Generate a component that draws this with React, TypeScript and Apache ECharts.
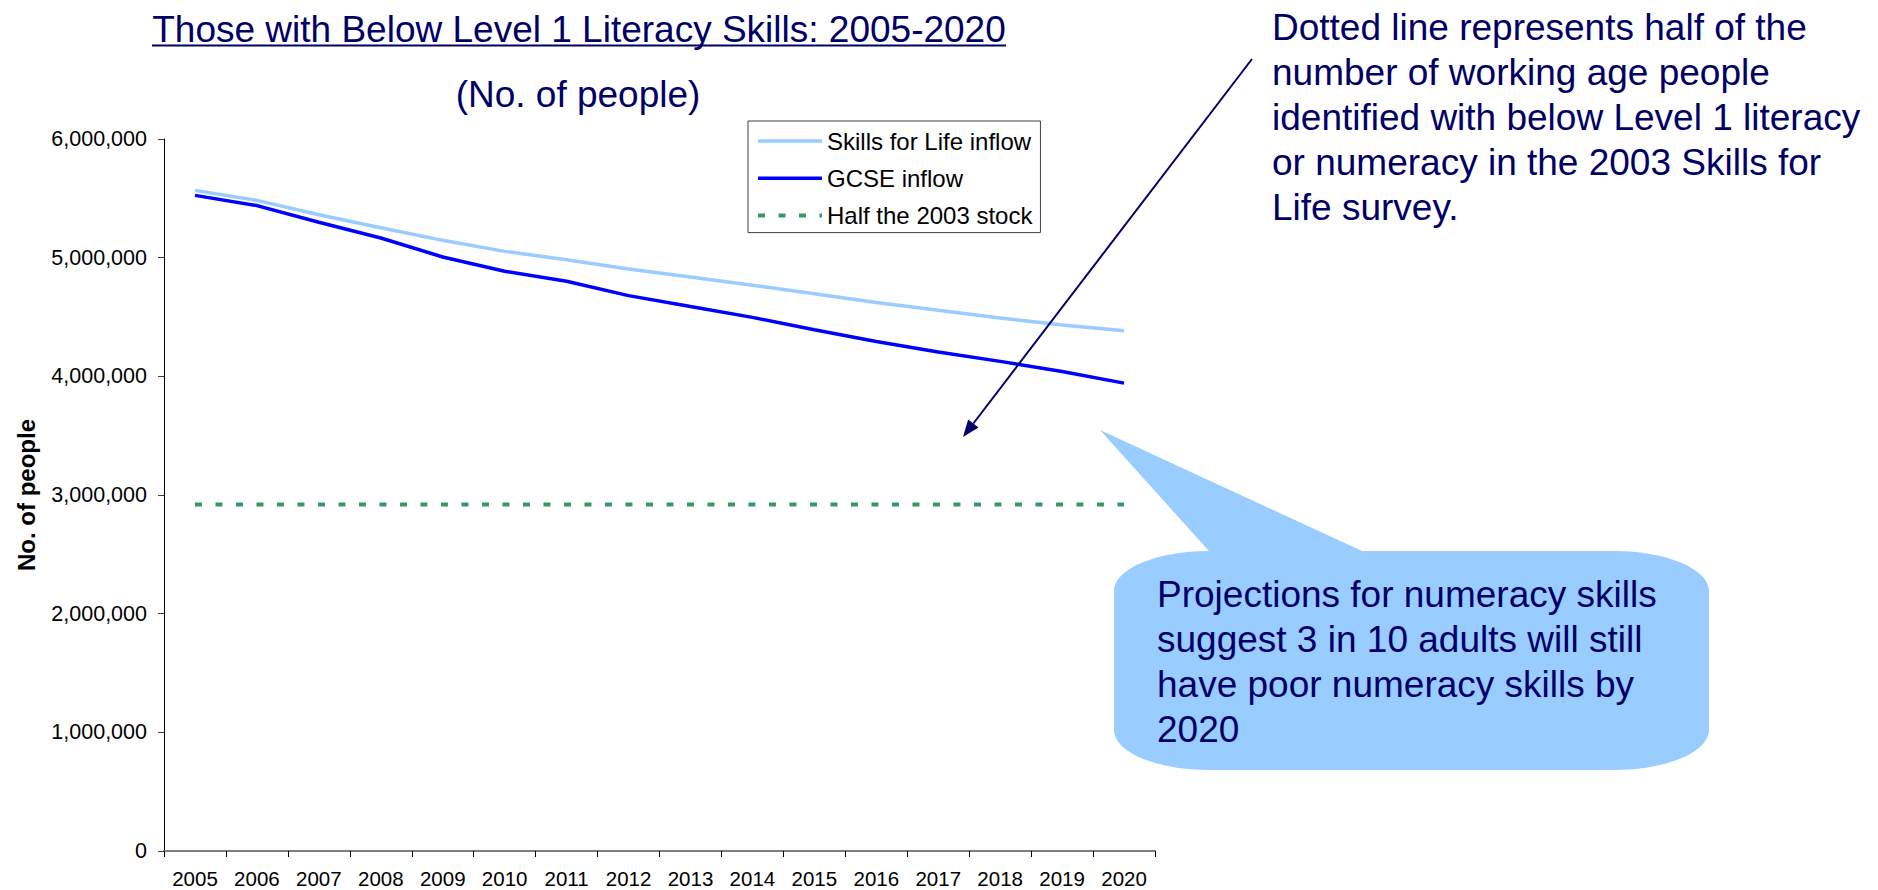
import React, { useEffect, useRef } from "react";
import * as echarts from "echarts";

const years = ["2005", "2006", "2007", "2008", "2009", "2010", "2011", "2012", "2013", "2014", "2015", "2016", "2017", "2018", "2019", "2020"];
const skillsForLifeInflow = [5567000, 5483000, 5362000, 5252000, 5146000, 5053000, 4983000, 4905000, 4838000, 4768000, 4696000, 4623000, 4556000, 4491000, 4432000, 4385000];
const gcseInflow = [5525000, 5439000, 5298000, 5166000, 5006000, 4885000, 4801000, 4680000, 4588000, 4497000, 4393000, 4294000, 4205000, 4126000, 4041000, 3943000];
const halfThe2003Stock = [2920000, 2920000, 2920000, 2920000, 2920000, 2920000, 2920000, 2920000, 2920000, 2920000, 2920000, 2920000, 2920000, 2920000, 2920000, 2920000];

const seriesNames = ["Skills for Life inflow", "GCSE inflow", "Half the 2003 stock"];
const seriesColors = ["#99CCFF", "#0000FF", "#339966"];
const yAxisMin = 0;
const yAxisMax = 6000000;
const yAxisInterval = 1000000;

const titleText = "Those with Below Level 1 Literacy Skills: 2005-2020";
const subtitleText = "(No. of people)";
const yAxisTitle = "No. of people";
const noteLines = [
  "Dotted line represents half of the",
  "number of working age people",
  "identified with below Level 1 literacy",
  "or numeracy in the 2003 Skills for",
  "Life survey.",
];
const calloutLines = [
  "Projections for numeracy skills",
  "suggest 3 in 10 adults will still",
  "have poor numeracy skills by",
  "2020",
];

const FONT = "'Liberation Sans', Arial, Helvetica, sans-serif";
const NAVY = "#000066";

// callout bubble outline (pointer + rounded body)
const K = 0.5523;
const bx0 = 1114, bx1 = 1709, by0 = 551, by1 = 770, rx = 95, ry = 40;
const calloutPath =
  `M ${bx0 + rx} ${by0} L 1100 430 L 1362 ${by0} L ${bx1 - rx} ${by0} ` +
  `C ${bx1 - rx + rx * K} ${by0} ${bx1} ${by0 + ry - ry * K} ${bx1} ${by0 + ry} ` +
  `L ${bx1} ${by1 - ry} ` +
  `C ${bx1} ${by1 - ry + ry * K} ${bx1 - rx + rx * K} ${by1} ${bx1 - rx} ${by1} ` +
  `L ${bx0 + rx} ${by1} ` +
  `C ${bx0 + rx - rx * K} ${by1} ${bx0} ${by1 - ry + ry * K} ${bx0} ${by1 - ry} ` +
  `L ${bx0} ${by0 + ry} ` +
  `C ${bx0} ${by0 + ry - ry * K} ${bx0 + rx - rx * K} ${by0} ${bx0 + rx} ${by0} Z`;

let registered = false;
function ensureShapes() {
  if (registered) return;
  echarts.graphic.registerShape("calloutBubble", echarts.graphic.extendPath(calloutPath, {}) as any);
  registered = true;
}

export default function App() {
  const ref = useRef<HTMLDivElement>(null);

  useEffect(() => {
    if (!ref.current) return;
    ensureShapes();
    const chart = echarts.init(ref.current, undefined, { renderer: "svg" });

    // arrow geometry
    const ax0 = 1252, ay0 = 59, ax1 = 963, ay1 = 437;
    const dx = ax1 - ax0, dy = ay1 - ay0;
    const len = Math.sqrt(dx * dx + dy * dy);
    const ux = dx / len, uy = dy / len;
    const headLen = 17, headHalf = 6.5;
    const baseX = ax1 - ux * headLen, baseY = ay1 - uy * headLen;
    const px = -uy, py = ux;

    const option: any = {
      animation: false,
      backgroundColor: "#ffffff",
      textStyle: { fontFamily: FONT },
      grid: { left: 164, top: 139, width: 991, height: 712, containLabel: false },
      legend: {
        orient: "vertical",
        left: 748,
        top: 121,
        padding: [8, 8, 5, 8],
        itemGap: 13.3,
        itemWidth: 64,
        itemHeight: 14,
        borderColor: "#404040",
        borderWidth: 1,
        backgroundColor: "#ffffff",
        itemStyle: { opacity: 0 },
        textStyle: { fontSize: 24, lineHeight: 24, color: "#000", fontFamily: FONT },
        data: [
          { name: seriesNames[0], lineStyle: { color: seriesColors[0], width: 3.5, opacity: 1 } },
          { name: seriesNames[1], lineStyle: { color: seriesColors[1], width: 3.5, opacity: 1 } },
          { name: seriesNames[2], lineStyle: { color: seriesColors[2], width: 4, opacity: 1 } },
        ],
      },
      xAxis: {
        type: "category",
        data: years,
        boundaryGap: true,
        axisLine: { show: true, lineStyle: { color: "#808080", width: 2 } },
        axisTick: { show: true, length: 6, lineStyle: { color: "#000", width: 1 } },
        axisLabel: { fontSize: 20.5, color: "#000", margin: 17, fontFamily: FONT, interval: 0 },
        splitLine: { show: false },
      },
      yAxis: {
        type: "value",
        min: yAxisMin,
        max: yAxisMax,
        interval: yAxisInterval,
        name: yAxisTitle,
        nameLocation: "middle",
        nameGap: 126,
        nameTextStyle: { fontSize: 24, fontWeight: "bold", color: "#000", fontFamily: FONT },
        axisLine: { show: true, lineStyle: { color: "#000", width: 1 } },
        axisTick: { show: true, length: 6, lineStyle: { color: "#404040", width: 1 } },
        axisLabel: {
          fontSize: 21.5,
          color: "#000",
          margin: 17,
          fontFamily: FONT,
          formatter: (v: number) => v.toLocaleString("en-US"),
        },
        splitLine: { show: false },
      },
      series: [
        {
          name: seriesNames[0],
          type: "line",
          data: skillsForLifeInflow,
          symbol: "none",
          lineStyle: { color: seriesColors[0], width: 3.5 },
          itemStyle: { color: seriesColors[0] },
          z: 3,
        },
        {
          name: seriesNames[1],
          type: "line",
          data: gcseInflow,
          symbol: "none",
          lineStyle: { color: seriesColors[1], width: 3.5 },
          itemStyle: { color: seriesColors[1] },
          z: 4,
        },
        {
          name: seriesNames[2],
          type: "line",
          data: halfThe2003Stock,
          symbol: "none",
          lineStyle: { color: seriesColors[2], width: 4, type: [7, 13.5], cap: "butt" },
          itemStyle: { color: seriesColors[2] },
          z: 2,
        },
      ],
      graphic: [
        {
          type: "text",
          x: 579,
          y: 29,
          style: {
            text: titleText,
            fill: NAVY,
            fontSize: 37,
            fontFamily: FONT,
            align: "center",
            verticalAlign: "middle",
            textAlign: "center",
            textVerticalAlign: "middle",
          },
        },
        {
          type: "line",
          shape: { x1: 152, y1: 45.5, x2: 1006, y2: 45.5 },
          style: { stroke: NAVY, lineWidth: 2 },
        },
        {
          type: "text",
          x: 578,
          y: 94,
          style: {
            text: subtitleText,
            fill: NAVY,
            fontSize: 37,
            fontFamily: FONT,
            align: "center",
            verticalAlign: "middle",
            textAlign: "center",
            textVerticalAlign: "middle",
          },
        },
        {
          type: "text",
          x: 1272,
          y: 4.5,
          style: {
            text: noteLines.join("\n"),
            fill: NAVY,
            fontSize: 37,
            lineHeight: 45,
            fontFamily: FONT,
            align: "left",
            verticalAlign: "top",
            textAlign: "left",
            textVerticalAlign: "top",
          },
        },
        {
          type: "line",
          z: 100,
          shape: { x1: ax0, y1: ay0, x2: baseX, y2: baseY },
          style: { stroke: NAVY, lineWidth: 2 },
        },
        {
          type: "polygon",
          z: 100,
          shape: {
            points: [
              [ax1, ay1],
              [baseX + px * headHalf, baseY + py * headHalf],
              [baseX - px * headHalf, baseY - py * headHalf],
            ],
          },
          style: { fill: NAVY },
        },
        {
          type: "calloutBubble",
          x: 0,
          y: 0,
          z: 50,
          style: { fill: "#99CCFF", stroke: "none" },
        },
        {
          type: "text",
          x: 1157,
          y: 571.5,
          z: 60,
          style: {
            text: calloutLines.join("\n"),
            fill: NAVY,
            fontSize: 37,
            lineHeight: 45,
            fontFamily: FONT,
            align: "left",
            verticalAlign: "top",
            textAlign: "left",
            textVerticalAlign: "top",
          },
        },
      ],
    };

    chart.setOption(option);
    return () => {
      chart.dispose();
    };
  }, []);

  return (
    <div
      ref={ref}
      style={{ position: "absolute", left: 0, top: 0, width: 1878, height: 890, background: "#fff" }}
    />
  );
}
